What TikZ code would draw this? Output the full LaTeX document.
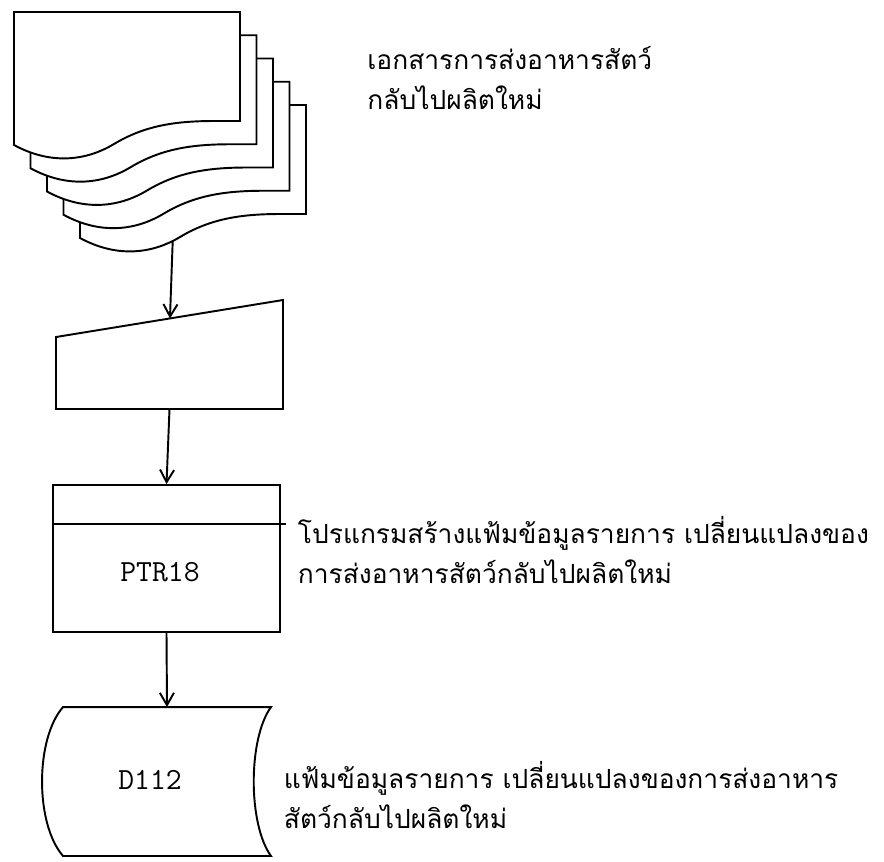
\documentclass[tikz,border=0pt]{standalone}
\usepackage{fontspec}
\newfontfamily\thaifont[Script=Thai]{Loma}
\usetikzlibrary{arrows.meta}

\begin{document}
\begin{tikzpicture}[
    line width = 1.1pt,
    >={Straight Barb[length=7pt, width=8pt]},
    doc/.style = {
      draw,
      fill = white
    },
    note/.style = {
      font = \thaifont\fontsize{15}{22.7}\selectfont,
      align = left,
      anchor = west,
      inner sep = 0pt
    },
    code/.style = {
      font = \ttfamily\fontsize{17.5}{17.5}\selectfont
    }
  ]
  \useasboundingbox (0,0) rectangle (17.68,-17.22);

  % stack of documents
  \foreach \i in {4,...,0} {
    \draw[doc, shift={({0.28+0.33*\i},{-0.24-0.465*\i})}]
      (0,0) -- (4.52,0) -- (4.52,-2.18) -- (4.0,-2.18)
      .. controls (3.2,-2.18) and (2.6,-2.28) .. (2.0,-2.64)
      .. controls (1.4,-3.0) and (0.7,-3.04) .. (0,-2.66)
      coordinate[pos=0.08] (doc\i-out) -- cycle;
  }

  % manual input
  \draw (1.12,-6.74) -- coordinate[pos=0.502] (input-in) (5.66,-6.0)
    -- (5.66,-8.18) -- coordinate[pos=0.5] (input-out) (1.12,-8.18) -- cycle;

  % program
  \node[draw, minimum width=4.54cm, minimum height=2.94cm, inner sep=0pt]
    (prog) at (3.33,-11.17) {};
  \draw ([yshift=0.69cm]prog.west) -- ([yshift=0.69cm, xshift=0.1cm]prog.east);
  \node[code] (prog-name) at (3.2,-11.44) {PTR18};

  % stored data
  \node[minimum width=4.12cm, minimum height=2.94cm, inner sep=0pt]
    (store) at (3.34,-15.63) {};
  \draw (store.north west) -- (store.north east)
    .. controls ([xshift=-0.46cm, yshift=-0.64cm]store.north east)
            and ([xshift=-0.46cm, yshift=0.64cm]store.south east) .. (store.south east)
    -- (store.south west)
    .. controls ([xshift=-0.56cm, yshift=0.64cm]store.south west)
            and ([xshift=-0.56cm, yshift=-0.64cm]store.north west) .. (store.north west)
    -- cycle;
  \node[code] (store-name) at (3.0,-15.6) {D112};

  \draw[->] (doc4-out) -- (input-in);
  \draw[->] (input-out) -- (prog.north);
  \draw[->] (prog.south) -- (store.north);

  \node[note] (doc-note) at (7.33,-1.56)
    {เอกสารการส่งอาหารสัตว์\\กลับไปผลิตใหม่};
  \node[note] (prog-note) at (5.94,-11.0)
    {โปรแกรมสร้างแฟ้มข้อมูลรายการ เปลี่ยนแปลงของ\\การส่งอาหารสัตว์กลับไปผลิตใหม่};
  \node[note] (store-note) at (5.66,-15.9)
    {แฟ้มข้อมูลรายการ เปลี่ยนแปลงของการส่งอาหาร\\สัตว์กลับไปผลิตใหม่};

\end{tikzpicture}
\end{document}
